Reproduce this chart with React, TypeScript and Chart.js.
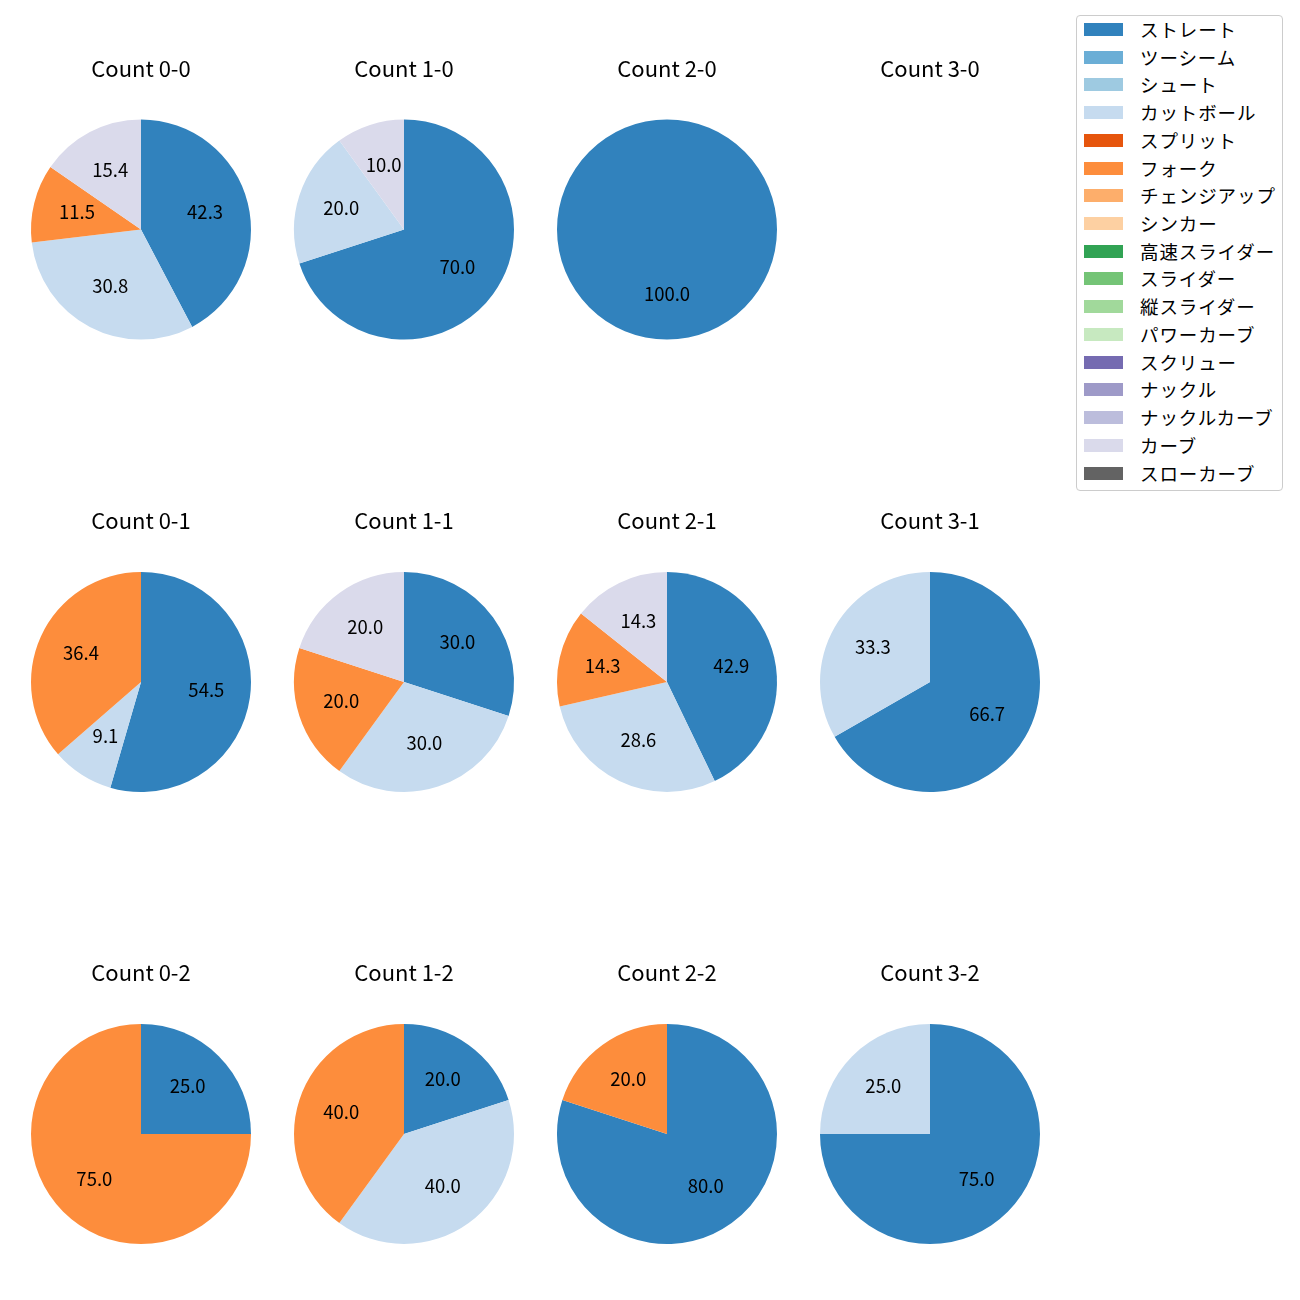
import React, { useEffect, useRef } from "react";
import { Chart, registerables } from "chart.js";
Chart.register(...registerables);

const pitchTypes = ["ストレート", "ツーシーム", "シュート", "カットボール", "スプリット", "フォーク", "チェンジアップ", "シンカー", "高速スライダー", "スライダー", "縦スライダー", "パワーカーブ", "スクリュー", "ナックル", "ナックルカーブ", "カーブ", "スローカーブ"];
const pitchColors = ["#3182bd", "#6baed6", "#9ecae1", "#c6dbef", "#e6550d", "#fd8d3c", "#fdae6b", "#fdd0a2", "#31a354", "#74c476", "#a1d99b", "#c7e9c0", "#756bb1", "#9e9ac8", "#bcbddc", "#dadaeb", "#636363"];

const countLabels = ["0-0", "1-0", "2-0", "3-0", "0-1", "1-1", "2-1", "3-1", "0-2", "1-2", "2-2", "3-2"];
const straightPct = [42.3, 70.0, 100.0, 0, 54.5, 30.0, 42.9, 66.7, 25.0, 20.0, 80.0, 75.0];
const cutballPct = [30.8, 20.0, 0, 0, 9.1, 30.0, 28.6, 33.3, 0, 40.0, 0, 25.0];
const forkPct = [11.5, 0, 0, 0, 36.4, 20.0, 14.3, 0, 75.0, 40.0, 20.0, 0];
const curvePct = [15.4, 10.0, 0, 0, 0, 20.0, 14.3, 0, 0, 0, 0, 0];

const seriesList = [
  { name: "ストレート", values: straightPct },
  { name: "カットボール", values: cutballPct },
  { name: "フォーク", values: forkPct },
  { name: "カーブ", values: curvePct },
];

const FONT = "'Noto Sans CJK JP', 'Noto Sans', sans-serif";
const colCenters = [141, 404, 667, 930];
const rowTitleY = [68, 520, 972];
const rowPieY = [229.5, 682, 1134];
const R = 110;

const pctLabelPlugin = {
  id: "pctLabels",
  afterDatasetsDraw(chart: any) {
    const ctx = chart.ctx;
    chart.data.datasets.forEach((ds: any, di: number) => {
      const meta = chart.getDatasetMeta(di);
      meta.data.forEach((arc: any, i: number) => {
        const v = ds.data[i];
        if (!v) return;
        const p = arc.getProps(["x", "y", "startAngle", "endAngle", "outerRadius"], true);
        const mid = (p.startAngle + p.endAngle) / 2;
        const rr = p.outerRadius * 0.6;
        ctx.save();
        ctx.font = `18.5px ${FONT}`;
        ctx.fillStyle = "#000";
        ctx.textAlign = "center";
        ctx.textBaseline = "middle";
        ctx.fillText(Number(v).toFixed(1), p.x + rr * Math.cos(mid), p.y + rr * Math.sin(mid) - 1.5);
        ctx.restore();
      });
    });
  },
};

function PieCell({ idx }: { idx: number }) {
  const ref = useRef<HTMLCanvasElement>(null);
  const r = Math.floor(idx / 4);
  const c = idx % 4;
  const cx = colCenters[c];
  const cy = rowPieY[r];
  const ty = rowTitleY[r];
  const W = 2 * R + 42;
  const H = 300;
  const titleSize = 22;
  const titleBox = titleSize * 1.2;
  const top = Math.round(ty - titleBox / 2);
  const pb = cy - R - top - titleBox;
  const padBottom = H - titleBox - pb - 2 * R;

  useEffect(() => {
    const labels: string[] = [];
    const data: number[] = [];
    const colors: string[] = [];
    seriesList.forEach((s) => {
      const v = s.values[idx];
      if (v > 0) {
        labels.push(s.name);
        data.push(v);
        colors.push(pitchColors[pitchTypes.indexOf(s.name)]);
      }
    });
    const chart = new Chart(ref.current!, {
      type: "pie",
      data: {
        labels,
        datasets: data.length
          ? [{ data, backgroundColor: colors, borderWidth: 0, hoverOffset: 0, offset: 0 }]
          : [],
      },
      options: {
        responsive: false,
        animation: false,
        devicePixelRatio: 1,
        layout: { padding: { left: 21, right: 21, top: 0, bottom: padBottom } },
        plugins: {
          legend: { display: false },
          tooltip: { enabled: false },
          title: {
            display: true,
            text: `Count ${countLabels[idx]}`,
            color: "#000",
            font: { family: FONT, size: titleSize, weight: "normal", lineHeight: 1.2 },
            padding: { top: 0, bottom: pb },
          },
        },
      } as any,
      plugins: [pctLabelPlugin],
    });
    return () => chart.destroy();
  }, [idx]);

  return (
    <canvas
      ref={ref}
      width={W}
      height={H}
      style={{ position: "absolute", left: cx - W / 2, top, width: W, height: H }}
    />
  );
}

export default function App() {
  useEffect(() => {
    document.body.style.margin = "0";
    document.body.style.overflow = "hidden";
  }, []);
  const yc0 = 29.5;
  const step = 27.72;
  return (
    <div style={{ position: "absolute", left: 0, top: 0, width: 1300, height: 1300, background: "#fff", overflow: "hidden" }}>
      {countLabels.map((_, i) => (
        <PieCell key={i} idx={i} />
      ))}
      <div
        style={{
          position: "absolute",
          left: 1076,
          top: 15,
          width: 207,
          height: 476,
          border: "1px solid #cccccc",
          borderRadius: 4,
          boxSizing: "border-box",
          background: "#fff",
        }}
      />
      {pitchTypes.map((p, i) => {
        const yc = yc0 + i * step;
        return (
          <React.Fragment key={p}>
            <div
              style={{
                position: "absolute",
                left: 1084,
                top: yc - 6.5,
                width: 39,
                height: 13,
                background: pitchColors[i],
              }}
            />
            <div
              style={{
                position: "absolute",
                left: 1140,
                top: yc - 14.5,
                height: 28,
                lineHeight: "28px",
                fontSize: 18.5,
                letterSpacing: "0.9px",
                fontFamily: FONT,
                color: "#000",
                whiteSpace: "nowrap",
              }}
            >
              {p}
            </div>
          </React.Fragment>
        );
      })}
    </div>
  );
}
